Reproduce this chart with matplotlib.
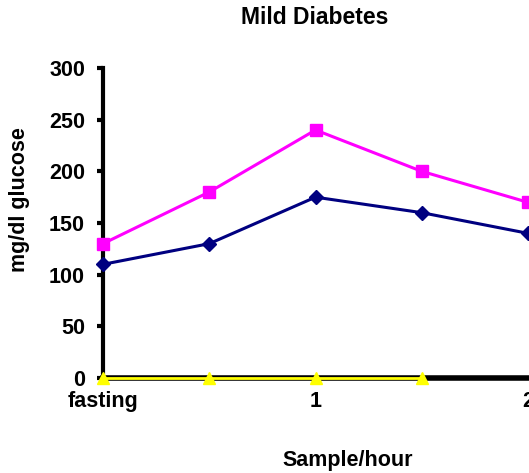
import matplotlib
matplotlib.use("Agg")
import matplotlib.pyplot as plt

x_pos = [0, 0.5, 1, 1.5, 2]
tick_pos = [0, 1, 2]
tick_labels = ["fasting", "1", "2"]
navy_vals = [110, 130, 175, 160, 140]
magenta_vals = [130, 180, 240, 200, 170]
yellow_x = [0, 0.5, 1, 1.5]
yellow_vals = [0, 0, 0, 0]

plt.rcParams['font.family'] = ['Liberation Sans', 'DejaVu Sans']
plt.rcParams['font.weight'] = 'bold'

W, H = 529, 473
fig = plt.figure(figsize=(W / 100, H / 100), dpi=100)
ax = fig.add_axes([103 / W, (H - 378) / H, (528 - 103) / W, (378 - 68) / H])

ax.plot(yellow_x, yellow_vals, color='#FFFF00', lw=2.0, marker='^', ms=9,
        markeredgecolor='#FFFF00', clip_on=False, zorder=5)
ax.plot(x_pos, navy_vals, color='#000080', lw=2.2, marker='D', ms=7,
        clip_on=False, zorder=4)
ax.plot(x_pos, magenta_vals, color='#FF00FF', lw=2.2, marker='s', ms=9,
        clip_on=False, zorder=4)

ax.set_xlim(0, 2)
ax.set_ylim(0, 300)
ax.set_yticks(range(0, 301, 50))
ax.set_xticks(tick_pos, tick_labels)
ax.tick_params(axis='x', length=0, pad=9, labelsize=15.5)
ax.set_xticks([2], minor=True)
ax.tick_params(axis='x', which='minor', length=5, width=3, direction='out')
ax.tick_params(axis='y', length=4, width=3, direction='out', pad=9, labelsize=15.5)
for lab in ax.get_xticklabels() + ax.get_yticklabels():
    lab.set_fontweight('bold')

for s in ['top', 'right']:
    ax.spines[s].set_visible(False)
ax.spines['left'].set_linewidth(3)
ax.spines['bottom'].set_linewidth(4)
ax.spines['bottom'].set_zorder(3)

fig.text(315 / W, 1 - 17 / H, "Mild Diabetes", ha='center', va='center',
         fontsize=16.5, fontweight='bold')
fig.text(348 / W, 1 - 460 / H, "Sample/hour", ha='center', va='center',
         fontsize=15.5, fontweight='bold')
fig.text(20 / W, 1 - 200 / H, "mg/dl glucose", ha='center', va='center',
         rotation=90, fontsize=15.5, fontweight='bold')

fig.savefig("out.png", dpi=100)
